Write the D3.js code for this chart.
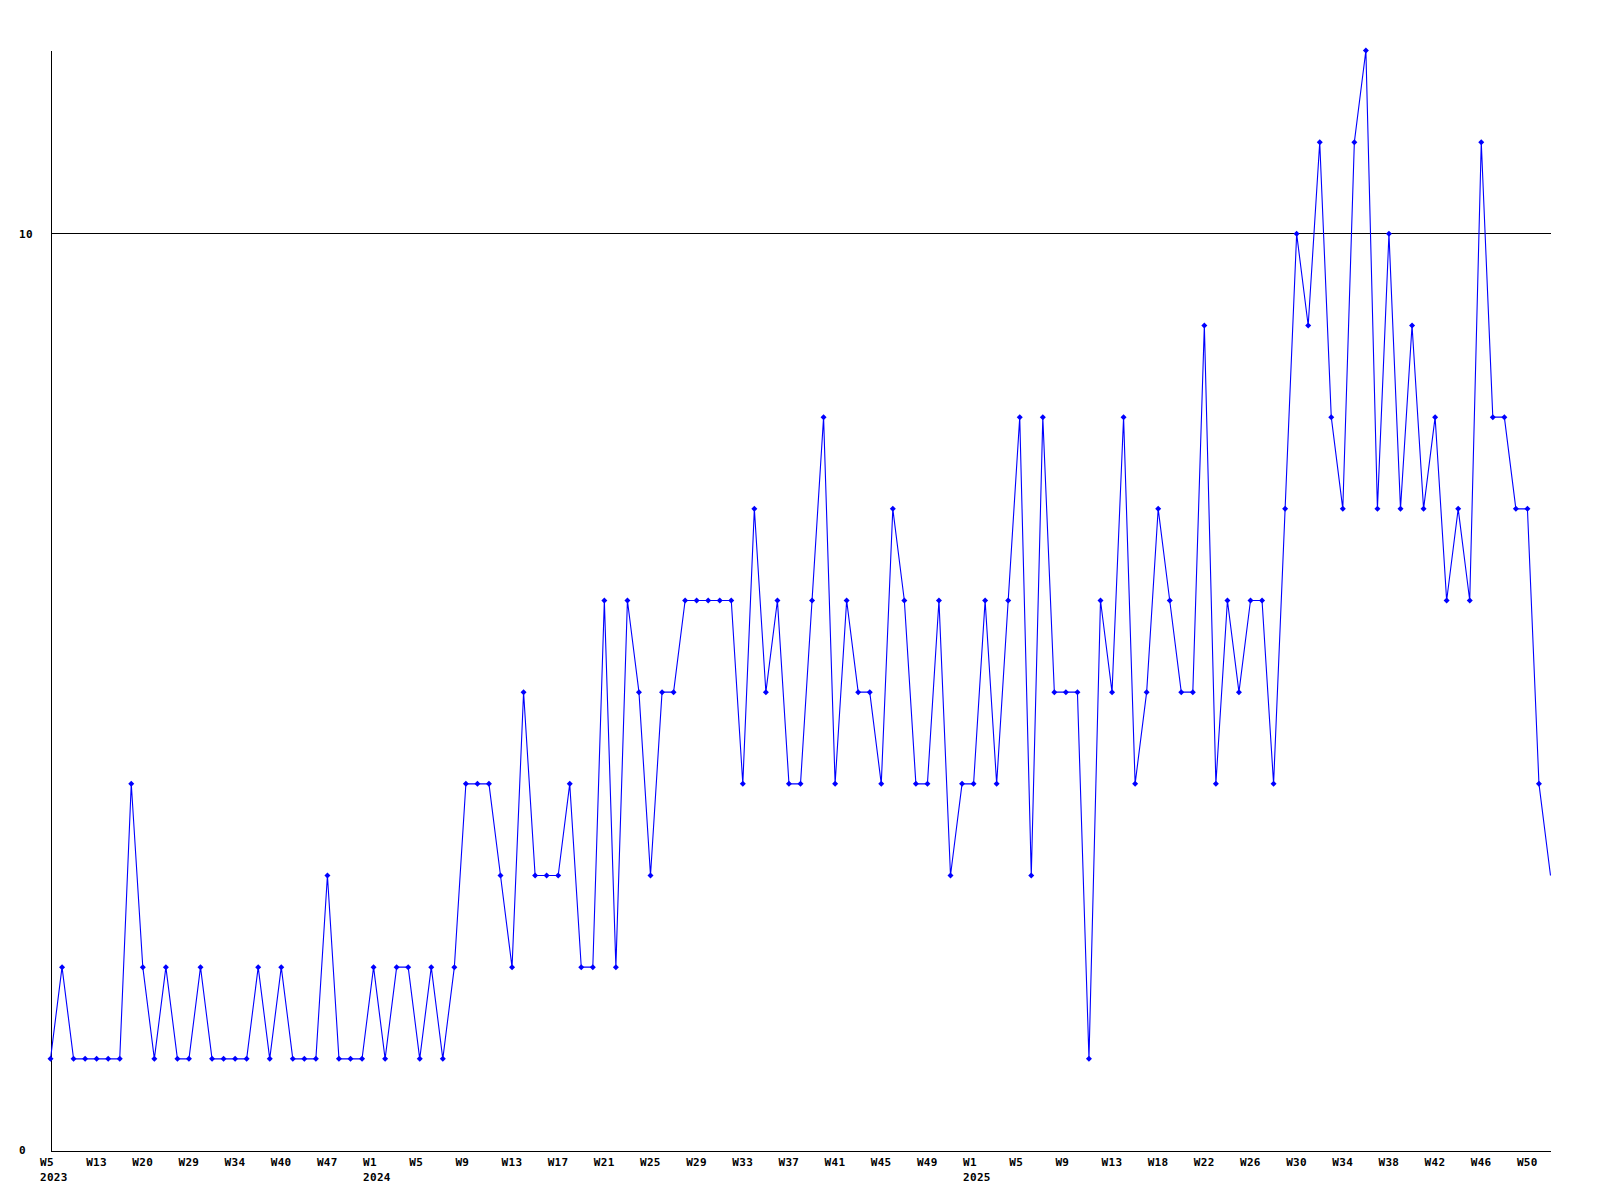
<!DOCTYPE html>
<html>
<head>
<meta charset="utf-8">
<script src="https://cdn.jsdelivr.net/npm/d3@7"></script>
<style>
  body { margin: 0; background: #fff; }
  svg text { font-family: "DejaVu Sans Mono", "Liberation Mono", monospace; font-weight: bold; font-size: 11px; fill: #000; letter-spacing: 0.3px; }
</style>
</head>
<body>
<svg id="chart" width="1600" height="1200"></svg>
<script>
// ---- data ----
const years = [2023, 2024, 2025];
const weeks2023 = [5, 7, 9, 11, 13, 15, 17, 18, 20, 23, 25, 27, 29, 30, 31, 33, 34, 36, 37, 38, 40, 42, 44, 45, 47, 49, 50, 51];
const weeks2024 = [1, 2, 3, 4, 5, 6, 7, 8, 9, 10, 11, 12, 13, 14, 15, 16, 17, 18, 19, 20, 21, 22, 23, 24, 25, 26,
                   27, 28, 29, 30, 31, 32, 33, 34, 35, 36, 37, 38, 39, 40, 41, 42, 43, 44, 45, 46, 47, 48, 49, 50, 51, 52];
const weeks2025 = [1, 2, 3, 4, 5, 6, 7, 8, 9, 10, 11, 12, 13, 14, 15, 17, 18, 19, 20, 21, 22, 23, 24, 25, 26,
                   27, 28, 29, 30, 31, 32, 33, 34, 35, 36, 37, 38, 39, 40, 41, 42, 43, 44, 45, 46, 47, 48, 49, 50, 51, 52];
const values = [
  1, 2, 1, 1, 1, 1, 1, 4, 2, 1, 2, 1, 1, 2, 1, 1, 1, 1, 2, 1, 2, 1, 1, 1, 3, 1, 1, 1,
  2, 1, 2, 2, 1, 2, 1, 2, 4, 4, 4, 3, 2, 5, 3, 3, 3, 4, 2, 2, 6, 2, 6, 5, 3, 5, 5, 6,
  6, 6, 6, 6, 4, 7, 5, 6, 4, 4, 6, 8, 4, 6, 5, 5, 4, 7, 6, 4, 4, 6, 3, 4,
  4, 6, 4, 6, 8, 3, 8, 5, 5, 5, 1, 6, 5, 8, 4, 5, 7, 6, 5, 5, 9, 4, 6, 5, 6, 6, 4, 7,
  10, 9, 11, 8, 7, 11, 12, 7, 10, 7, 9, 7, 8, 6, 7, 6, 11, 8, 8, 7, 7, 4, 3
];
const yTickValues = [0, 10];
const gridValues = [10];

// ---- build ----
const categories = [];
[weeks2023, weeks2024, weeks2025].forEach((ws, k) => ws.forEach(w => categories.push({ year: years[k], week: w })));
const data = categories.map((c, i) => ({ key: i, year: c.year, week: c.week, value: values[i] }));

const svg = d3.select("#chart");
const plotL = 50.5, plotR = 1550.5, plotT = 50.5, plotB = 1150.5;

const x = d3.scalePoint().domain(data.map(d => d.key)).range([plotL, plotR]);
const y = d3.scaleLinear().domain([0, d3.max(values)]).range([plotB, plotT]);

// gridline
svg.append("g").selectAll("line").data(gridValues).join("line")
  .attr("x1", plotL).attr("x2", plotR)
  .attr("y1", d => Math.floor(y(d)) + 0.5).attr("y2", d => Math.floor(y(d)) + 0.5)
  .attr("stroke", "#000").attr("stroke-width", 1).attr("shape-rendering", "crispEdges");

// x axis
const tickKeys = data.filter((d, i) => i % 4 === 0).map(d => d.key);
const xAxis = d3.axisBottom(x).tickValues(tickKeys).tickSize(0).tickSizeOuter(0).tickPadding(0)
  .tickFormat(k => "W" + data[k].week);
const gx = svg.append("g").attr("transform", `translate(0,${plotB})`).call(xAxis);
gx.attr("font-family", null).attr("font-size", null);
gx.select(".domain").attr("stroke", "#000").attr("shape-rendering", "crispEdges");
gx.selectAll(".tick text").attr("text-anchor", "start").attr("x", -11).attr("y", 15.8).attr("dy", null);
gx.selectAll(".tick").filter(k => k === 0 || data[k].year !== data[k - 1].year)
  .append("text").attr("text-anchor", "start").attr("x", -11).attr("y", 30.8)
  .text(k => data[k].year);

// y axis
const yAxis = d3.axisLeft(y).tickValues(yTickValues).tickSize(0).tickSizeOuter(0).tickPadding(0)
  .tickFormat(d3.format("d"));
const gy = svg.append("g").attr("transform", `translate(${plotL},0)`).call(yAxis);
gy.attr("font-family", null).attr("font-size", null);
gy.select(".domain").attr("stroke", "#000").attr("shape-rendering", "crispEdges");
gy.selectAll(".tick text").attr("text-anchor", "start").attr("x", 19 - plotL).attr("y", 3.4).attr("dy", null);

// line
const line = d3.line().x(d => x(d.key)).y(d => y(d.value));
svg.append("path").datum(data)
  .attr("d", line).attr("fill", "none").attr("stroke", "#0000ff").attr("stroke-width", 1.1);

// markers (clipped at the right edge of the plot)
svg.append("clipPath").attr("id", "plotclip").append("rect")
  .attr("x", 0).attr("y", 0).attr("width", plotR - 3).attr("height", 1200);
const diamond = { draw(ctx, size) { const r = Math.sqrt(size) / 2; ctx.moveTo(-r, 0); ctx.lineTo(0, -r); ctx.lineTo(r, 0); ctx.lineTo(0, r); ctx.closePath(); } };
svg.append("g").attr("clip-path", "url(#plotclip)")
  .selectAll("path").data(data).join("path")
  .attr("transform", d => `translate(${x(d.key)},${y(d.value)})`)
  .attr("d", d3.symbol(diamond, 36))
  .attr("fill", "#0000ff");
</script>
</body>
</html>
